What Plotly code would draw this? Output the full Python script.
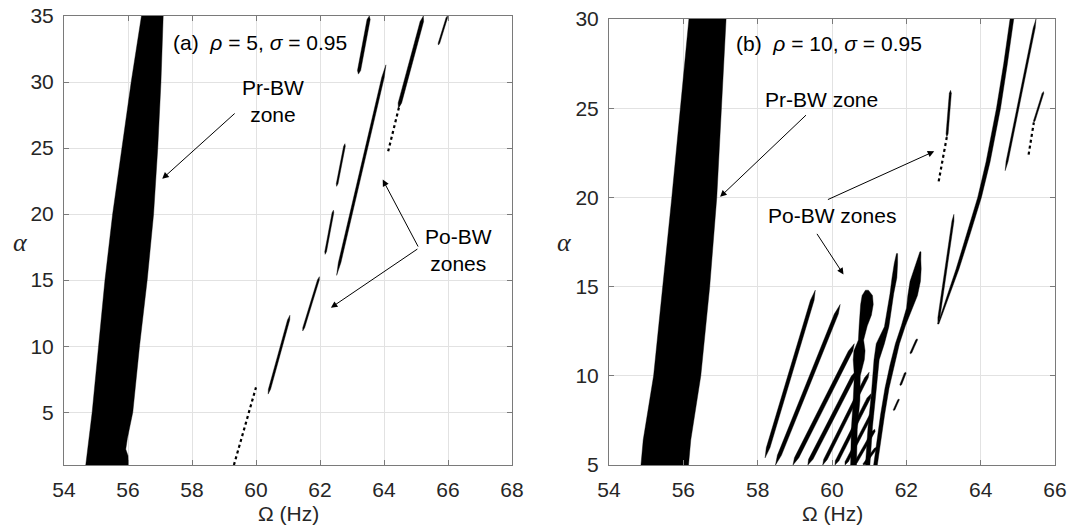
import plotly.graph_objects as go

W, H = 1078, 529

# ---------------- Panel (a): rho = 5, sigma = 0.95 ----------------
a_pr_alpha_left = [1, 5, 10, 15, 20, 25, 30, 35]
a_pr_x_left = [54.68, 54.88, 55.08, 55.28, 55.52, 55.8, 56.1, 56.42]
a_pr_alpha_right = [1, 1.7, 2.2, 3.0, 5, 10, 15, 20, 25, 30, 35]
a_pr_x_right = [56.01, 56.0, 55.93, 55.98, 56.15, 56.36, 56.6, 56.8, 56.93, 57.03, 57.1]

# Po-BW zones (thin strips): lower end, upper end, width (Hz)
a_po_alpha_lo = [6.37, 11.15, 16.95, 22.1, 30.6, 15.36, 28.0, 32.8]
a_po_x_lo = [60.38, 61.46, 62.16, 62.52, 63.2, 62.52, 64.45, 65.7]
a_po_alpha_hi = [12.34, 15.26, 20.3, 25.33, 35.0, 31.3, 35.0, 35.0]
a_po_x_hi = [61.06, 61.98, 62.42, 62.78, 63.54, 64.06, 65.23, 65.98]
a_po_width = [0.07, 0.06, 0.055, 0.055, 0.1, 0.08, 0.11, 0.05]
# dotted / dashed traces
a_dot_alpha = [[1.0, 6.88], [24.75, 28.3]]
a_dot_x = [[59.31, 60.0], [64.13, 64.49]]

# ---------------- Panel (b): rho = 10, sigma = 0.95 ----------------
b_pr_alpha = [5, 6.4, 10, 15, 20, 25, 30]
b_pr_x_left = [54.86, 54.92, 55.2, 55.45, 55.69, 55.92, 56.15]
b_pr_x_right = [56.14, 56.2, 56.47, 56.71, 56.9, 57.03, 57.15]

# diagonal strips of the Po-BW cluster
b_st_alpha_lo = [5.4, 5.0, 5.0, 5.0, 5.0, 5.0, 5.0, 5.0, 5.0]
b_st_x_lo = [58.2, 58.48, 58.95, 59.35, 59.75, 60.08, 60.35, 60.6, 60.85]
b_st_alpha_hi = [14.8, 14.0, 11.8, 10.3, 10.2, 9.0, 8.0, 7.0, 6.0]
b_st_x_hi = [59.55, 60.22, 60.6, 60.66, 61.0, 61.05, 61.1, 61.15, 61.2]
b_st_width = [0.1, 0.11, 0.12, 0.12, 0.1, 0.1, 0.09, 0.09, 0.08]

# wavy columns of the cluster
b_c1_alpha = [5.0, 7.0, 8.6, 10.0, 10.9, 11.4, 12.0, 12.8, 13.4, 14.0, 14.5, 14.8]
b_c1_x = [60.58, 60.6, 60.66, 60.68, 60.72, 60.74, 60.78, 60.84, 60.9, 60.94, 60.95, 60.94]
b_c1_w = [0.16, 0.16, 0.18, 0.16, 0.3, 0.3, 0.14, 0.22, 0.32, 0.34, 0.28, 0.08]

b_c2_alpha = [5.0, 7.15, 9.0, 10.9, 11.8, 12.75, 14.6, 15.5, 16.3, 16.85]
b_c2_x = [60.96, 61.03, 61.12, 61.2, 61.3, 61.47, 61.61, 61.68, 61.72, 61.75]
b_c2_w = [0.12, 0.12, 0.12, 0.14, 0.22, 0.12, 0.1, 0.13, 0.09, 0.03]

b_c3_alpha = [5.0, 6.5, 7.8, 9.3, 10.6, 11.8, 12.8, 13.8, 14.5, 15.3, 16.0, 16.5, 16.95]
b_c3_x = [61.17, 61.27, 61.36, 61.48, 61.62, 61.76, 61.92, 62.08, 62.17, 62.24, 62.3, 62.34, 62.38]
b_c3_w = [0.1, 0.1, 0.11, 0.11, 0.12, 0.11, 0.11, 0.15, 0.26, 0.28, 0.2, 0.1, 0.03]

# main long curve
b_m_alpha = [12.9, 14.25, 16.0, 18.0, 20.0, 22.0, 25.0, 27.5, 30.0]
b_m_x = [62.86, 63.09, 63.38, 63.68, 63.97, 64.2, 64.48, 64.67, 64.84]
b_m_w = [0.03, 0.06, 0.08, 0.09, 0.1, 0.11, 0.11, 0.1, 0.1]

# other thin Po-BW strips in (b)
b_po_alpha_lo = [12.9, 11.23, 9.45, 8.05, 23.4, 21.5, 24.2]
b_po_x_lo = [62.85, 62.11, 61.84, 61.66, 63.09, 64.66, 65.43]
b_po_alpha_hi = [19.05, 12.07, 10.2, 8.7, 26.0, 30.0, 25.93]
b_po_x_hi = [63.28, 62.29, 61.98, 61.8, 63.19, 65.49, 65.69]
b_po_width = [0.055, 0.05, 0.05, 0.045, 0.055, 0.055, 0.045]
b_dot_alpha = [[20.9, 23.4], [22.4, 24.2]]
b_dot_x = [[62.87, 63.09], [65.29, 65.43]]


def seg_poly(a0, x0, a1, x1, w):
    ts = [0.0, 0.06, 0.5, 0.94, 1.0]
    pts = [(x0 + t * (x1 - x0), a0 + t * (a1 - a0)) for t in ts]
    xs = [pts[0][0]] + [p[0] + w / 2 for p in pts[1:4]] + [pts[4][0]] + [p[0] - w / 2 for p in pts[3:0:-1]] + [pts[0][0]]
    ys = [pts[0][1]] + [p[1] for p in pts[1:4]] + [pts[4][1]] + [p[1] for p in pts[3:0:-1]] + [pts[0][1]]
    return xs, ys


def band_poly(al, xc, wd):
    xs = [x + w / 2 for x, w in zip(xc, wd)] + [x - w / 2 for x, w in zip(xc[::-1], wd[::-1])]
    ys = list(al) + list(al[::-1])
    return xs + [xs[0]], ys + [ys[0]]


fig = go.Figure()


def add_fill(xs, ys, xa, ya):
    fig.add_trace(go.Scatter(x=xs, y=ys, mode="lines", fill="toself", fillcolor="black",
                             line=dict(color="black", width=0.4), hoverinfo="skip",
                             showlegend=False, xaxis=xa, yaxis=ya))


def add_dot(xs, ys, xa, ya):
    fig.add_trace(go.Scatter(x=xs, y=ys, mode="lines",
                             line=dict(color="black", width=2.2, dash="3px,3px"),
                             hoverinfo="skip", showlegend=False, xaxis=xa, yaxis=ya))


# panel (a) shapes
add_fill(a_pr_x_left + a_pr_x_right[::-1] + [a_pr_x_left[0]],
         a_pr_alpha_left + a_pr_alpha_right[::-1] + [a_pr_alpha_left[0]], "x", "y")
for i in range(len(a_po_width)):
    xs, ys = seg_poly(a_po_alpha_lo[i], a_po_x_lo[i], a_po_alpha_hi[i], a_po_x_hi[i], a_po_width[i])
    add_fill(xs, ys, "x", "y")
for al, xx in zip(a_dot_alpha, a_dot_x):
    add_dot(xx, al, "x", "y")

# panel (b) shapes
add_fill(b_pr_x_left + b_pr_x_right[::-1] + [b_pr_x_left[0]],
         b_pr_alpha + b_pr_alpha[::-1] + [b_pr_alpha[0]], "x2", "y2")
for i in range(len(b_st_width)):
    xs, ys = seg_poly(b_st_alpha_lo[i], b_st_x_lo[i], b_st_alpha_hi[i], b_st_x_hi[i], b_st_width[i])
    add_fill(xs, ys, "x2", "y2")
for al, xc, wd in [(b_c1_alpha, b_c1_x, b_c1_w), (b_c2_alpha, b_c2_x, b_c2_w),
                   (b_c3_alpha, b_c3_x, b_c3_w), (b_m_alpha, b_m_x, b_m_w)]:
    xs, ys = band_poly(al, xc, wd)
    add_fill(xs, ys, "x2", "y2")
for i in range(len(b_po_width)):
    xs, ys = seg_poly(b_po_alpha_lo[i], b_po_x_lo[i], b_po_alpha_hi[i], b_po_x_hi[i], b_po_width[i])
    add_fill(xs, ys, "x2", "y2")
for al, xx in zip(b_dot_alpha, b_dot_x):
    add_dot(xx, al, "x2", "y2")

FONT = "Liberation Sans, Arial, sans-serif"
axis_common = dict(showline=True, linecolor="#7a7a7a", linewidth=1, mirror="ticks",
                   ticks="inside", ticklen=5, tickcolor="#7a7a7a", showgrid=True,
                   gridcolor="#e2e2e2", gridwidth=1, zeroline=False, automargin=False,
                   tickfont=dict(family=FONT, size=21, color="#262626"))

fig.update_layout(
    template="none",
    width=W, height=H, margin=dict(l=0, r=0, t=0, b=0, pad=0),
    paper_bgcolor="white", plot_bgcolor="white", showlegend=False,
    xaxis=dict(domain=[64 / W, 512 / W], range=[54, 68], tickvals=list(range(54, 69, 2)),
               anchor="y", ticklabelstandoff=6, **axis_common),
    yaxis=dict(domain=[1 - 465 / H, 1 - 16 / H], range=[1, 35], tickvals=list(range(5, 36, 5)),
               anchor="x", ticklabelstandoff=5, **axis_common),
    xaxis2=dict(domain=[609 / W, 1055 / W], range=[54, 66], tickvals=list(range(54, 67, 2)),
                anchor="y2", ticklabelstandoff=6, **axis_common),
    yaxis2=dict(domain=[1 - 465 / H, 1 - 19 / H], range=[5, 30], tickvals=list(range(5, 31, 5)),
                anchor="x2", ticklabelstandoff=5, **axis_common),
)

ann = []
txt_font = dict(family=FONT, size=21, color="black")
# panel labels
ann.append(dict(xref="x", yref="y", x=57.34, y=32.96, xanchor="left", yanchor="middle", showarrow=False,
                text="(a)  <i>ρ</i> = 5, <i>σ</i> = 0.95", font=txt_font))
ann.append(dict(xref="x2", yref="y2", x=57.36, y=28.62, xanchor="left", yanchor="middle", showarrow=False,
                text="(b)  <i>ρ</i> = 10, <i>σ</i> = 0.95", font=txt_font))
# zone labels
ann.append(dict(xref="x", yref="y", x=60.52, y=28.6, showarrow=False, text="Pr-BW<br>zone",
                font=txt_font, align="center"))
ann.append(dict(xref="x", yref="y", x=66.33, y=17.3, showarrow=False, text="Po-BW<br>zones",
                font=txt_font, align="center"))
ann.append(dict(xref="x2", yref="y2", x=59.71, y=25.5, showarrow=False, text="Pr-BW zone", font=txt_font))
ann.append(dict(xref="x2", yref="y2", x=59.99, y=18.99, showarrow=False, text="Po-BW zones", font=txt_font))
# arrows
arrows = [("x", "y", 59.38, 27.72, 57.07, 22.67),
          ("x", "y", 65.09, 17.43, 63.96, 22.61),
          ("x", "y", 65.09, 17.43, 62.34, 12.91),
          ("x2", "y2", 59.34, 24.69, 56.99, 20.03),
          ("x2", "y2", 59.85, 19.84, 62.75, 22.58),
          ("x2", "y2", 59.57, 18.04, 60.31, 15.68)]
for xr, yr, tx, ty, hx, hy in arrows:
    ann.append(dict(xref=xr, yref=yr, axref=xr, ayref=yr, x=hx, y=hy, ax=tx, ay=ty, text="",
                    showarrow=True, arrowhead=2, arrowsize=1.3, arrowwidth=1, arrowcolor="black"))
# axis titles
for cx in [288, 832]:
    ann.append(dict(xref="paper", yref="paper", x=cx / W, y=1 - 513 / H, xanchor="center", yanchor="middle",
                    showarrow=False, text="Ω (Hz)", font=dict(family=FONT, size=21, color="#262626")))
for cx in [20, 564]:
    ann.append(dict(xref="paper", yref="paper", x=cx / W, y=1 - 243 / H, xanchor="center", yanchor="middle",
                    showarrow=False, text="<i>α</i>",
                    font=dict(family="Liberation Serif, Times New Roman, serif", size=26, color="#262626")))
fig.update_layout(annotations=ann)

fig.write_html("out.html")
